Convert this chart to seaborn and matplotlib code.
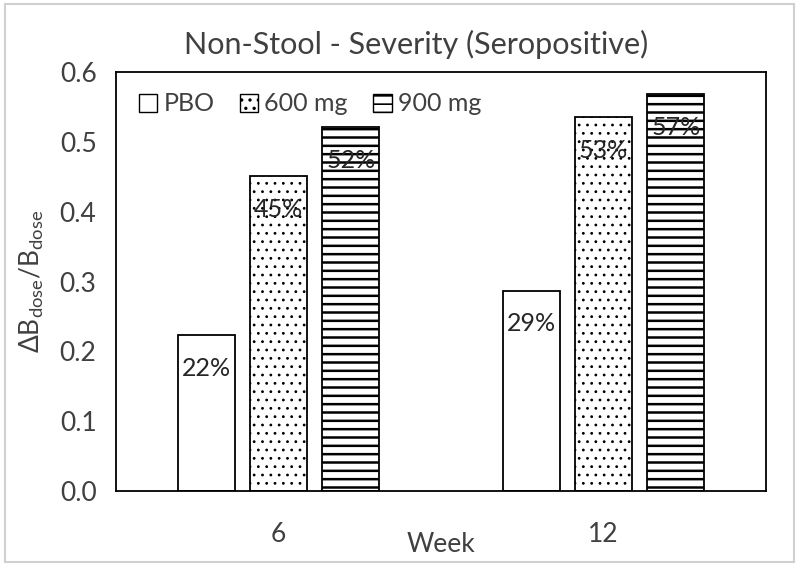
import matplotlib
matplotlib.use("Agg")
import matplotlib.pyplot as plt
from matplotlib.patches import Patch, Rectangle
import seaborn as sns
import pandas as pd

weeks = ["6", "12"]
doses = ["PBO", "600 mg", "900 mg"]
pbo = [0.223, 0.287]
mg600 = [0.451, 0.535]
mg900 = [0.521, 0.568]
pct_labels = {"PBO": ["22%", "29%"], "600 mg": ["45%", "53%"], "900 mg": ["52%", "57%"]}
hatches = ["", "..", "--"]
hatch_lw = [1.0, 0.8, 1.8]

rows = []
for d, vals in zip(doses, [pbo, mg600, mg900]):
    for w, v in zip(weeks, vals):
        rows.append({"Week": w, "Dose": d, "value": v})
df = pd.DataFrame(rows)

sns.set_theme(style="white")
plt.rcParams["font.family"] = ["Lato", "DejaVu Sans"]
plt.rcParams["mathtext.fontset"] = "custom"
plt.rcParams["mathtext.rm"] = "Lato"
plt.rcParams["mathtext.it"] = "Lato"
plt.rcParams["hatch.linewidth"] = 1.2
plt.rcParams["hatch.color"] = "black"

txt = "#404040"
fig = plt.figure(figsize=(8, 5.66), dpi=100)
ax = fig.add_axes([0.145, 0.1325, 0.8125, 0.7403])

sns.barplot(data=df, x="Week", y="value", hue="Dose", order=weeks, hue_order=doses,
            palette=["white"] * 3, saturation=1, edgecolor="black", linewidth=1.3,
            width=0.667, gap=0.21, legend=False, ax=ax)

def set_hlw(p, lw):
    try:
        p.set_hatch_linewidth(lw)
    except Exception:
        pass

for cont, h, d, hl in zip(ax.containers, hatches, doses, hatch_lw):
    for bar, lab in zip(cont, pct_labels[d]):
        bar.set_hatch(h)
        set_hlw(bar, hl)
        bar.set_edgecolor("black")
        ax.annotate(lab, (bar.get_x() + bar.get_width() / 2, bar.get_height()),
                    xytext=(0, -24), textcoords="offset points", ha="center", va="center",
                    fontsize=18, color="#262626")

ax.set_ylim(0, 0.6)
ax.set_yticks([0, 0.1, 0.2, 0.3, 0.4, 0.5, 0.6])
ax.set_yticklabels([f"{t:.1f}" for t in [0, 0.1, 0.2, 0.3, 0.4, 0.5, 0.6]])
ax.tick_params(axis="y", length=0, pad=14, labelsize=19, labelcolor=txt)
ax.tick_params(axis="x", length=0, pad=22, labelsize=19, labelcolor=txt)
for s in ax.spines.values():
    s.set_visible(True)
    s.set_color("black")
    s.set_linewidth(1.3)

ax.set_xlabel("Week", fontsize=19, color=txt)
ax.xaxis.set_label_coords(0.5, -0.098)
ax.set_ylabel("ΔB$_{\\mathrm{dose}}$/B$_{\\mathrm{dose}}$", fontsize=19, color=txt, labelpad=10)

handles = [Patch(facecolor="white", edgecolor="black", hatch=h, linewidth=1.0) for h in hatches]
for hd, hl in zip(handles, hatch_lw):
    set_hlw(hd, hl)
ax.legend(handles, doses, loc="upper left", bbox_to_anchor=(0.0, 1.005), ncol=3, frameon=False,
          fontsize=18, labelcolor=txt, handlelength=0.75, handleheight=0.75, handletextpad=0.25,
          columnspacing=1.0)

fig.suptitle("Non-Stool - Severity (Seropositive)", x=0.52, y=0.948, fontsize=22, color=txt)

fig.patches.append(Rectangle((0.006, 0.007), 0.986, 0.986, transform=fig.transFigure,
                             fill=False, edgecolor="#d0d0d0", linewidth=1.5))

fig.savefig("out.png", dpi=100)
